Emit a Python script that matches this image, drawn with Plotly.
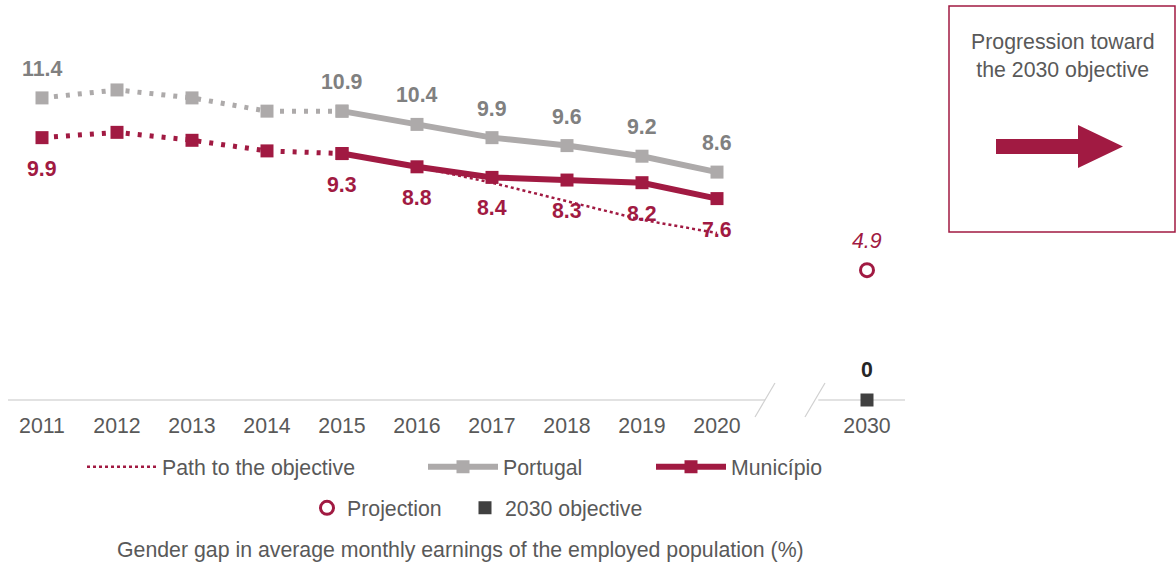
import plotly.graph_objects as go

W, H = 1176, 564

# data
years = ["2011", "2012", "2013", "2014", "2015", "2016", "2017", "2018", "2019", "2020"]
categories = years + [" ", "2030"]
portugal = [11.4, 11.7, 11.4, 10.9, 10.9, 10.4, 9.9, 9.6, 9.2, 8.6]
municipio = [9.9, 10.1, 9.8, 9.4, 9.3, 8.8, 8.4, 8.3, 8.2, 7.6]
path_years = ["2016", "2017", "2018", "2019", "2020"]
path_values = [8.8, 8.2, 7.5, 6.8, 6.3]
target_year = "2030"
projection = 4.9
objective = 0
labelled_years = ["2011", "2015", "2016", "2017", "2018", "2019", "2020"]

RED = "#a11a42"
GREY = "#adaaaa"
LABEL_GREY = "#808080"
TEXT = "#595959"
FONT = "Liberation Sans, Arial, sans-serif"
FS = 21.3


def px(x, y):
    # pixel -> paper (margins are zero, so paper is the whole page)
    return x / W, 1 - y / H


split = years.index("2015") + 1

fig = go.Figure()

# dotted history 2011-2015
fig.add_trace(go.Scatter(x=years[:split], y=portugal[:split], mode="lines+markers",
                         line=dict(color=GREY, width=5, dash="4px,8px"),
                         marker=dict(symbol="square", size=13, color=GREY),
                         showlegend=False, cliponaxis=False))
fig.add_trace(go.Scatter(x=years[:split], y=municipio[:split], mode="lines+markers",
                         line=dict(color=RED, width=5, dash="4px,8px"),
                         marker=dict(symbol="square", size=13, color=RED),
                         showlegend=False, cliponaxis=False))

# path to the objective
fig.add_trace(go.Scatter(x=path_years, y=path_values, mode="lines", name="Path to the objective",
                         line=dict(color=RED, width=2.5, dash="dot"), legend="legend"))

# solid lines 2015-2020
fig.add_trace(go.Scatter(x=years[split - 1:], y=portugal[split - 1:], mode="lines+markers", name="Portugal",
                         line=dict(color=GREY, width=6),
                         marker=dict(symbol="square", size=13, color=GREY),
                         legend="legend2", cliponaxis=False))
fig.add_trace(go.Scatter(x=years[split - 1:], y=municipio[split - 1:], mode="lines+markers", name="Município",
                         line=dict(color=RED, width=6),
                         marker=dict(symbol="square", size=13, color=RED),
                         legend="legend3", cliponaxis=False))

# 2030
fig.add_trace(go.Scatter(x=[target_year], y=[projection], mode="markers", name="Projection",
                         marker=dict(symbol="circle-open", size=13, color=RED, line=dict(width=3)),
                         legend="legend4", cliponaxis=False))
fig.add_trace(go.Scatter(x=[target_year], y=[objective], mode="markers", name="2030 objective",
                         marker=dict(symbol="square", size=13, color="#404040"),
                         legend="legend5", cliponaxis=False))

annotations = []
for yr in labelled_years:
    i = years.index(yr)
    xi = categories.index(yr)
    annotations.append(dict(x=xi, y=portugal[i], text=f"<b>{portugal[i]:.1f}</b>", showarrow=False,
                            yshift=29, font=dict(size=FS, color=LABEL_GREY, family=FONT)))
    annotations.append(dict(x=xi, y=municipio[i], text=f"<b>{municipio[i]:.1f}</b>", showarrow=False,
                            yshift=-31, font=dict(size=FS, color=RED, family=FONT)))
xt = categories.index(target_year)
annotations.append(dict(x=xt, y=projection, text=f"<i>{projection:.1f}</i>", showarrow=False,
                        yshift=29, font=dict(size=FS, color=RED, family=FONT)))
annotations.append(dict(x=xt, y=objective, text=f"<b>{objective}</b>", showarrow=False,
                        yshift=30, font=dict(size=FS, color="#262626", family=FONT)))

tx, ty = px(460, 550)
annotations.append(dict(xref="paper", yref="paper", x=tx, y=ty, xanchor="center", yanchor="middle",
                        showarrow=False,
                        text="Gender gap in average monthly earnings of the employed population (%)",
                        font=dict(size=FS, color=TEXT, family=FONT)))
bx, by = px(1062, 56)
annotations.append(dict(xref="paper", yref="paper", x=bx, y=by, xanchor="center", yanchor="middle",
                        showarrow=False, text="Progression toward<br>the 2030 objective",
                        font=dict(size=FS, color=TEXT, family=FONT)))

# broken baseline
shapes = [
    dict(type="line", xref="x", yref="y", x0=-0.4533, x1=9.64, y0=0, y1=0,
         line=dict(color="#d9d9d9", width=1.5), layer="below"),
    dict(type="line", xref="x", yref="y", x0=10.35, x1=11.5067, y0=0, y1=0,
         line=dict(color="#d9d9d9", width=1.5), layer="below"),
    dict(type="line", xref="x", yref="y", x0=9.507, x1=9.773, y0=-0.64, y1=0.64,
         line=dict(color="#d0d0d0", width=1.2)),
    dict(type="line", xref="x", yref="y", x0=10.173, x1=10.44, y0=-0.64, y1=0.64,
         line=dict(color="#d0d0d0", width=1.2)),
]
x0, y0 = px(949, 6)
x1, y1 = px(1175, 232)
shapes.append(dict(type="rect", xref="paper", yref="paper", x0=x0, y0=y1, x1=x1, y1=y0,
                   line=dict(color=RED, width=1.5)))
arrow_pts = [(996, 139), (1078, 139), (1078, 125), (1123, 146.5), (1078, 168), (1078, 154), (996, 154)]
path = "M" + " L".join(f"{px(a, b)[0]:.5f},{px(a, b)[1]:.5f}" for a, b in arrow_pts) + " Z"
shapes.append(dict(type="path", xref="paper", yref="paper", path=path,
                   fillcolor=RED, line=dict(width=0)))

legend_base = dict(orientation="h", xanchor="left", yanchor="middle", bgcolor="rgba(0,0,0,0)",
                   font=dict(size=FS, color=TEXT, family=FONT))
lx1, ly1 = px(82, 467)
lx2, _ = px(423, 467)
lx3, _ = px(651, 467)
lx4, ly2 = px(307, 508)
lx5, _ = px(465, 508)

fig.update_layout(
    width=W, height=H,
    margin=dict(l=0, r=0, t=0, b=0),
    plot_bgcolor="white", paper_bgcolor="white",
    font=dict(family=FONT, size=FS, color=TEXT),
    xaxis=dict(type="category", categoryarray=categories, categoryorder="array",
               domain=[8 / W, 905 / W], range=[-0.4533, 11.5067],
               anchor="free", position=1 - 400 / H,
               tickvals=years + [target_year], ticks="outside", ticklen=6, tickcolor="rgba(0,0,0,0)",
               showgrid=False, showline=False, zeroline=False,
               tickfont=dict(size=FS, color=TEXT, family=FONT)),
    yaxis=dict(domain=[1 - 450 / H, 1 - 10 / H], range=[(400 - 450) / 26.5, (400 - 10) / 26.5],
               visible=False, showgrid=False, zeroline=False),
    legend=dict(legend_base, x=lx1, y=ly1, itemwidth=70),
    legend2=dict(legend_base, x=lx2, y=ly1, itemwidth=70),
    legend3=dict(legend_base, x=lx3, y=ly1, itemwidth=70),
    legend4=dict(legend_base, x=lx4, y=ly2),
    legend5=dict(legend_base, x=lx5, y=ly2),
    annotations=annotations,
    shapes=shapes,
)

fig.write_html("out.html", config={"displayModeBar": False},
               post_script="document.body.style.margin='0';")
